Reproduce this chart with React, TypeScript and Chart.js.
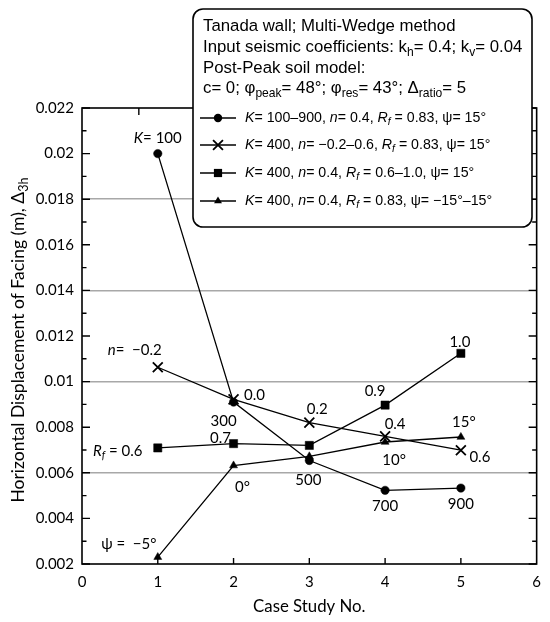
import React, { useEffect, useRef } from 'react';
import { Chart, registerables } from 'chart.js';

Chart.register(...registerables);

// ---------- data ----------
const caseNo = [1, 2, 3, 4, 5];
const dispK = [0.02, 0.0091, 0.00654, 0.00523, 0.00533];
const dispN = [0.01063, 0.00922, 0.0082, 0.0076, 0.00699];
const dispRf = [0.00709, 0.00728, 0.0072, 0.00897, 0.01124];
const dispPsi = [0.0023, 0.00632, 0.00672, 0.00735, 0.00757];

const kLabels = ['100', '300', '500', '700', '900'];
const nLabels = ['\u22120.2', '0.0', '0.2', '0.4', '0.6'];
const rfLabels = ['0.6', '0.7', '', '0.9', '1.0'];
const psiLabels = ['\u22125\u00b0', '0\u00b0', '', '10\u00b0', '15\u00b0'];

const xMin = 0;
const xMax = 6;
const yMin = 0.002;
const yMax = 0.022;
const gridValues = [0.006, 0.01, 0.014, 0.018];

// ---------- styles ----------
const AX_FONT = 'Lato';
const LG_FONT = '"Liberation Sans", Arial, sans-serif';

type Part = { t: string; it?: boolean; sub?: boolean };

function partFont(p: Part, size: number, family: string) {
  return `${p.it ? 'italic ' : ''}${p.sub ? size * 0.72 : size}px ${family}`;
}

function drawParts(
  ctx: CanvasRenderingContext2D,
  parts: Part[],
  x: number,
  y: number,
  size: number,
  family: string,
  align: 'left' | 'center'
) {
  ctx.textBaseline = 'middle';
  ctx.textAlign = 'left';
  let w = 0;
  for (const p of parts) {
    ctx.font = partFont(p, size, family);
    w += ctx.measureText(p.t).width;
  }
  let cx = align === 'center' ? x - w / 2 : x;
  for (const p of parts) {
    ctx.font = partFont(p, size, family);
    ctx.fillText(p.t, cx, p.sub ? y + size * 0.32 : y);
    cx += ctx.measureText(p.t).width;
  }
}

function drawMarker(ctx: CanvasRenderingContext2D, shape: string, x: number, y: number, r: number) {
  ctx.save();
  ctx.fillStyle = '#000';
  ctx.strokeStyle = '#000';
  ctx.beginPath();
  if (shape === 'circle') {
    ctx.arc(x, y, r, 0, Math.PI * 2);
    ctx.fill();
  } else if (shape === 'rect') {
    const s = r * Math.SQRT1_2;
    ctx.rect(x - s, y - s, 2 * s, 2 * s);
    ctx.fill();
  } else if (shape === 'triangle') {
    let a = 0;
    ctx.moveTo(x + Math.sin(a) * r, y - Math.cos(a) * r);
    a += (Math.PI * 2) / 3;
    ctx.lineTo(x + Math.sin(a) * r, y - Math.cos(a) * r);
    a += (Math.PI * 2) / 3;
    ctx.lineTo(x + Math.sin(a) * r, y - Math.cos(a) * r);
    ctx.closePath();
    ctx.fill();
  } else if (shape === 'crossRot') {
    const d = r * Math.SQRT1_2;
    ctx.lineWidth = 1.8;
    ctx.moveTo(x - d, y - d);
    ctx.lineTo(x + d, y + d);
    ctx.moveTo(x - d, y + d);
    ctx.lineTo(x + d, y - d);
    ctx.stroke();
  }
  ctx.restore();
}

const seriesStyles = [
  { shape: 'circle', r: 4.2 },
  { shape: 'crossRot', r: 7 },
  { shape: 'rect', r: 5.8 },
  { shape: 'triangle', r: 4.6 },
];

// annotation placement: [series, point, dx, dy, parts]
const annotations: { s: number; i: number; dx: number; dy: number; parts: Part[] }[] = [
  { s: 0, i: 0, dx: 0, dy: -15, parts: [{ t: 'K', it: true }, { t: '= ' + kLabels[0] }] },
  { s: 0, i: 1, dx: -10, dy: 19, parts: [{ t: kLabels[1] }] },
  { s: 0, i: 2, dx: -1, dy: 20, parts: [{ t: kLabels[2] }] },
  { s: 0, i: 3, dx: 0, dy: 16, parts: [{ t: kLabels[3] }] },
  { s: 0, i: 4, dx: 0, dy: 16, parts: [{ t: kLabels[4] }] },
  { s: 1, i: 0, dx: -23, dy: -17, parts: [{ t: 'n', it: true }, { t: '=  ' + nLabels[0] }] },
  { s: 1, i: 1, dx: 21, dy: -4, parts: [{ t: nLabels[1] }] },
  { s: 1, i: 2, dx: 8, dy: -13, parts: [{ t: nLabels[2] }] },
  { s: 1, i: 3, dx: 10, dy: -12, parts: [{ t: nLabels[3] }] },
  { s: 1, i: 4, dx: 19, dy: 7, parts: [{ t: nLabels[4] }] },
  { s: 2, i: 0, dx: -40, dy: 3, parts: [{ t: 'R', it: true }, { t: 'f', it: true, sub: true }, { t: ' = ' + rfLabels[0] }] },
  { s: 2, i: 1, dx: -13, dy: -5, parts: [{ t: rfLabels[1] }] },
  { s: 2, i: 3, dx: -10, dy: -14, parts: [{ t: rfLabels[3] }] },
  { s: 2, i: 4, dx: -1, dy: -11, parts: [{ t: rfLabels[4] }] },
  { s: 3, i: 0, dx: -29, dy: -13, parts: [{ t: '\u03c8 =  ' + psiLabels[0] }] },
  { s: 3, i: 1, dx: 9, dy: 22, parts: [{ t: psiLabels[1] }] },
  { s: 3, i: 3, dx: 9, dy: 18, parts: [{ t: psiLabels[3] }] },
  { s: 3, i: 4, dx: 3, dy: -15, parts: [{ t: psiLabels[4] }] },
];

const legendHeader: Part[][] = [
  [{ t: 'Tanada wall; Multi-Wedge method' }],
  [
    { t: 'Input seismic coefficients: k' },
    { t: 'h', sub: true },
    { t: '= 0.4; k' },
    { t: 'v', sub: true },
    { t: '= 0.04' },
  ],
  [{ t: 'Post-Peak soil model:' }],
  [
    { t: 'c= 0; \u03c6' },
    { t: 'peak', sub: true },
    { t: '= 48\u00b0; \u03c6' },
    { t: 'res', sub: true },
    { t: '= 43\u00b0; \u0394' },
    { t: 'ratio', sub: true },
    { t: '= 5' },
  ],
];

const legendEntries: Part[][] = [
  [
    { t: 'K', it: true }, { t: '= 100\u2013900, ' }, { t: 'n', it: true }, { t: '= 0.4, ' },
    { t: 'R', it: true }, { t: 'f', it: true, sub: true }, { t: ' = 0.83, \u03c8= 15\u00b0' },
  ],
  [
    { t: 'K', it: true }, { t: '= 400, ' }, { t: 'n', it: true }, { t: '= \u22120.2\u20130.6, ' },
    { t: 'R', it: true }, { t: 'f', it: true, sub: true }, { t: ' = 0.83, \u03c8= 15\u00b0' },
  ],
  [
    { t: 'K', it: true }, { t: '= 400, ' }, { t: 'n', it: true }, { t: '= 0.4, ' },
    { t: 'R', it: true }, { t: 'f', it: true, sub: true }, { t: ' = 0.6\u20131.0, \u03c8= 15\u00b0' },
  ],
  [
    { t: 'K', it: true }, { t: '= 400, ' }, { t: 'n', it: true }, { t: '= 0.4, ' },
    { t: 'R', it: true }, { t: 'f', it: true, sub: true }, { t: ' = 0.83, \u03c8= \u221215\u00b0\u201315\u00b0' },
  ],
];

const overlayPlugin = {
  id: 'overlay',
  afterDatasetsDraw(chart: any) {
    const ctx: CanvasRenderingContext2D = chart.ctx;
    const { left, right, top, bottom } = chart.chartArea;
    const xs = chart.scales.x;
    const ys = chart.scales.y;
    ctx.save();
    // frame
    ctx.strokeStyle = '#000';
    ctx.lineWidth = 1.6;
    ctx.strokeRect(left, top, right - left, bottom - top);
    // y ticks (every 0.001) on both sides
    ctx.lineWidth = 1.4;
    for (let k = 2; k <= 22; k++) {
      const py = ys.getPixelForValue(k / 1000);
      const len = k % 2 === 0 ? 8 : 4.5;
      ctx.beginPath();
      ctx.moveTo(left, py);
      ctx.lineTo(left + len, py);
      ctx.moveTo(right, py);
      ctx.lineTo(right - len, py);
      ctx.stroke();
    }
    for (let v = 1; v <= 5; v++) {
      const px = xs.getPixelForValue(v);
      ctx.beginPath();
      ctx.moveTo(px, bottom);
      ctx.lineTo(px, bottom - 6);
      ctx.stroke();
    }
    const tx = xs.getPixelForValue(0.75);
    ctx.beginPath();
    ctx.moveTo(tx, top);
    ctx.lineTo(tx, top + 7);
    ctx.stroke();

    // point annotations
    ctx.fillStyle = '#000';
    for (const a of annotations) {
      const el = chart.getDatasetMeta(a.s).data[a.i];
      drawParts(ctx, a.parts, el.x + a.dx, el.y + a.dy, 15, AX_FONT, 'center');
    }

    // y-axis title
    ctx.save();
    ctx.translate(18, (top + bottom) / 2 + 4);
    ctx.rotate(-Math.PI / 2);
    drawParts(
      ctx,
      [{ t: 'Horizontal Displacement of Facing (m), \u0394' }, { t: '3h', sub: true }],
      0, 0, 17.5, AX_FONT, 'center'
    );
    ctx.restore();

    // x-axis title
    drawParts(ctx, [{ t: 'Case Study No.' }], (left + right) / 2, 607, 16.8, AX_FONT, 'center');

    // legend box
    const bx = 193, by = 9, bw = 339, bh = 218, rad = 10;
    ctx.beginPath();
    ctx.moveTo(bx + rad, by);
    ctx.lineTo(bx + bw - rad, by);
    ctx.arcTo(bx + bw, by, bx + bw, by + rad, rad);
    ctx.lineTo(bx + bw, by + bh - rad);
    ctx.arcTo(bx + bw, by + bh, bx + bw - rad, by + bh, rad);
    ctx.lineTo(bx + rad, by + bh);
    ctx.arcTo(bx, by + bh, bx, by + bh - rad, rad);
    ctx.lineTo(bx, by + rad);
    ctx.arcTo(bx, by, bx + rad, by, rad);
    ctx.closePath();
    ctx.fillStyle = '#fff';
    ctx.fill();
    ctx.lineWidth = 1.6;
    ctx.strokeStyle = '#000';
    ctx.stroke();

    ctx.fillStyle = '#000';
    const headerY = [26, 47, 68, 88];
    legendHeader.forEach((parts, i) => drawParts(ctx, parts, 203, headerY[i], 16.8, LG_FONT, 'left'));
    const entryY = [118, 145, 173, 201];
    legendEntries.forEach((parts, i) => {
      const y = entryY[i];
      ctx.lineWidth = 1.3;
      ctx.beginPath();
      ctx.moveTo(200, y);
      ctx.lineTo(236, y);
      ctx.stroke();
      drawMarker(ctx, seriesStyles[i].shape, 218, y, seriesStyles[i].r);
      ctx.fillStyle = '#000';
      drawParts(ctx, parts, 245, y, 14.2, LG_FONT, 'left');
    });
    ctx.restore();
  },
};

export default function App() {
  const ref = useRef<HTMLCanvasElement | null>(null);

  useEffect(() => {
    if (!ref.current) return;
    const seriesData = [dispK, dispN, dispRf, dispPsi];
    const orders = [3, 0, 1, 2];
    const datasets = seriesData.map((vals, si) => ({
      label: 'S' + si,
      data: caseNo.map((c, i) => ({ x: c, y: vals[i] })),
      borderColor: '#000',
      backgroundColor: '#000',
      borderWidth: 1.3,
      pointStyle: seriesStyles[si].shape,
      pointRadius: seriesStyles[si].r,
      pointBorderWidth: seriesStyles[si].shape === 'crossRot' ? 1.8 : 0.5,
      pointBorderColor: '#000',
      pointBackgroundColor: '#000',
      order: orders[si],
      tension: 0,
    }));

    const chart = new Chart(ref.current, {
      type: 'line',
      data: { datasets },
      options: {
        responsive: false,
        animation: false,
        devicePixelRatio: 1,
        layout: { padding: { top: 108, right: 11, left: 0, bottom: 0 } },
        plugins: { legend: { display: false }, tooltip: { enabled: false } },
        scales: {
          x: {
            type: 'linear',
            min: xMin,
            max: xMax,
            ticks: { stepSize: 1, color: '#000', font: { family: AX_FONT, size: 15 }, padding: 9 },
            grid: { display: false, drawTicks: false },
            border: { display: false },
            afterFit: (s: any) => { s.height = 58; },
          },
          y: {
            type: 'linear',
            min: yMin,
            max: yMax,
            ticks: {
              stepSize: 0.002,
              color: '#000',
              font: { family: AX_FONT, size: 15 },
              padding: 8,
              callback: (v: any) => String(Math.round(Number(v) * 1000) / 1000),
            },
            grid: {
              drawTicks: false,
              lineWidth: 1.5,
              color: (c: any) => {
                const v = c.tick ? c.tick.value : NaN;
                return gridValues.some((g) => Math.abs(g - v) < 1e-7) ? '#a8a8a8' : 'rgba(0,0,0,0)';
              },
            },
            border: { display: false },
            afterFit: (s: any) => { s.width = 82; },
          },
        },
      },
      plugins: [overlayPlugin],
    });
    return () => chart.destroy();
  }, []);

  return (
    <div style={{ position: 'absolute', left: 0, top: 0, width: 550, height: 622, background: '#fff' }}>
      <canvas ref={ref} width={550} height={622} style={{ display: 'block' }} />
    </div>
  );
}
